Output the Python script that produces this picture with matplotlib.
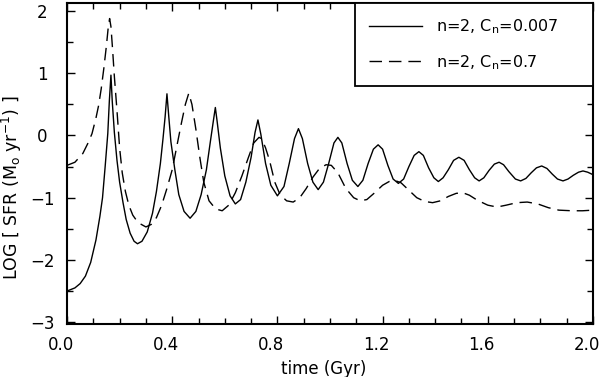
import matplotlib
matplotlib.use("Agg")
import matplotlib.pyplot as plt
import matplotlib.transforms as mtransforms
from matplotlib.ticker import MultipleLocator, FormatStrFormatter

# solid curve: n=2, Cn=0.007  (time in Gyr, log SFR)
t_solid = [0.0, 0.03, 0.05, 0.07, 0.09, 0.11, 0.125, 0.135, 0.145, 0.155,
           0.161, 0.167, 0.172, 0.180, 0.190, 0.200, 0.213, 0.225, 0.240, 0.255,
           0.268, 0.285, 0.305, 0.325, 0.340, 0.355, 0.365, 0.373, 0.380, 0.387,
           0.395, 0.410, 0.425, 0.445, 0.468, 0.490, 0.510, 0.530, 0.545, 0.557,
           0.564, 0.571, 0.583, 0.600, 0.620, 0.640, 0.660, 0.680, 0.700, 0.715,
           0.726, 0.737, 0.755, 0.775, 0.800, 0.825, 0.845, 0.865, 0.880, 0.895,
           0.915, 0.935, 0.955, 0.975, 0.995, 1.015, 1.030, 1.045, 1.065, 1.085,
           1.106, 1.125, 1.145, 1.165, 1.183, 1.200, 1.220, 1.240, 1.260, 1.280,
           1.300, 1.320, 1.338, 1.355, 1.375, 1.395, 1.412, 1.430, 1.450, 1.470,
           1.490, 1.510, 1.530, 1.550, 1.567, 1.585, 1.605, 1.625, 1.643, 1.660,
           1.680, 1.705, 1.725, 1.745, 1.765, 1.785, 1.805, 1.825, 1.845, 1.865,
           1.886, 1.905, 1.925, 1.945, 1.962, 1.980, 2.000]
sfr_solid = [-2.50, -2.45, -2.38, -2.26, -2.04, -1.68, -1.30, -1.00, -0.50, 0.03,
             0.56, 0.97, 0.55, 0.05, -0.40, -0.75, -1.08, -1.35, -1.57, -1.70,
             -1.74, -1.70, -1.55, -1.25, -0.90, -0.45, -0.05, 0.30, 0.67, 0.30,
             -0.10, -0.55, -0.95, -1.22, -1.33, -1.22, -0.95, -0.55, -0.10, 0.25,
             0.45, 0.22, -0.20, -0.65, -0.97, -1.10, -1.03, -0.75, -0.35, 0.05,
             0.25, 0.02, -0.45, -0.80, -0.97, -0.82, -0.45, -0.05, 0.11, -0.05,
             -0.45, -0.75, -0.87, -0.75, -0.45, -0.12, -0.03, -0.12, -0.45, -0.72,
             -0.82, -0.72, -0.45, -0.22, -0.15, -0.22, -0.48, -0.70, -0.77, -0.70,
             -0.50, -0.32, -0.26, -0.32, -0.52, -0.68, -0.74, -0.68, -0.55, -0.40,
             -0.35, -0.40, -0.55, -0.68, -0.73, -0.68, -0.56, -0.46, -0.43, -0.47,
             -0.58, -0.70, -0.73, -0.69, -0.60, -0.52, -0.49, -0.53, -0.62, -0.70,
             -0.73, -0.70, -0.64, -0.59, -0.57, -0.59, -0.63]

# dashed curve: n=2, Cn=0.7
t_dash = [0.0, 0.03, 0.06, 0.08, 0.095, 0.11, 0.12, 0.13, 0.14, 0.150,
          0.157, 0.162, 0.167, 0.173, 0.180, 0.190, 0.200, 0.210, 0.222, 0.235,
          0.250, 0.270, 0.300, 0.320, 0.340, 0.360, 0.380, 0.400, 0.420, 0.435,
          0.450, 0.463, 0.475, 0.490, 0.505, 0.520, 0.540, 0.565, 0.590, 0.615,
          0.640, 0.665, 0.690, 0.710, 0.730, 0.740, 0.755, 0.770, 0.790, 0.810,
          0.835, 0.860, 0.885, 0.910, 0.935, 0.960, 0.985, 1.005, 1.030, 1.060,
          1.090, 1.115, 1.140, 1.170, 1.200, 1.225, 1.245, 1.270, 1.300, 1.330,
          1.360, 1.390, 1.420, 1.450, 1.480, 1.505, 1.530, 1.560, 1.600, 1.635,
          1.670, 1.710, 1.750, 1.790, 1.830, 1.870, 1.920, 1.960, 2.000]
sfr_dash = [-0.48, -0.43, -0.29, -0.12, 0.03, 0.28, 0.48, 0.75, 1.08, 1.45,
            1.75, 1.88, 1.75, 1.40, 0.95, 0.40, -0.20, -0.60, -0.90, -1.12,
            -1.28, -1.40, -1.47, -1.43, -1.32, -1.12, -0.85, -0.55, -0.12, 0.20,
            0.50, 0.68, 0.50, 0.10, -0.35, -0.75, -1.05, -1.18, -1.21, -1.12,
            -0.92, -0.65, -0.35, -0.12, -0.03, -0.05, -0.20, -0.40, -0.75, -0.95,
            -1.05, -1.07, -1.00, -0.85, -0.67, -0.53, -0.47, -0.48, -0.60, -0.85,
            -1.00, -1.05, -1.03, -0.92, -0.80, -0.74, -0.72, -0.76, -0.88, -1.00,
            -1.06, -1.08, -1.05, -0.98, -0.93, -0.92, -0.96, -1.04, -1.12, -1.15,
            -1.12, -1.08, -1.07, -1.10, -1.16, -1.20, -1.21, -1.21, -1.20]

labels = [r"n=2, C$_\mathregular{n}$=0.007", r"n=2, C$_\mathregular{n}$=0.7"]

plt.rcParams["font.family"] = "DejaVu Sans"
plt.rcParams["font.size"] = 12

fig = plt.figure(figsize=(6, 3.77), dpi=100)
ax = fig.add_axes([0.1117, 0.1406, 0.8766, 0.8515])

ax.plot(t_solid, sfr_solid, color="black", lw=1.0, label=labels[0])
ax.plot(t_dash, sfr_dash, color="black", lw=1.0, linestyle=(0, (9, 5)), label=labels[1])

ax.set_xlim(0, 2.0)
ax.set_ylim(-3.03, 2.13)
ax.xaxis.set_major_locator(MultipleLocator(0.4))
ax.xaxis.set_minor_locator(MultipleLocator(0.1))
ax.xaxis.set_major_formatter(FormatStrFormatter("%.1f"))
ax.yaxis.set_major_locator(MultipleLocator(1))
ax.yaxis.set_minor_locator(MultipleLocator(0.5))
ax.tick_params(which="both", direction="in", top=True, right=True, width=1.0)
ax.tick_params(which="major", length=6)
ax.tick_params(which="minor", length=4)
ax.tick_params(axis="x", which="major", pad=9)
ax.tick_params(axis="y", which="major", pad=18)
for s in ax.spines.values():
    s.set_linewidth(1.5)

ax.set_xlabel("time (Gyr)", fontsize=12, va="top")
ax.xaxis.set_label_coords(0.4886, -0.113)
ax.set_ylabel(r"LOG [ SFR (M$_\mathregular{o}$ yr$^{\mathregular{-1}}$) ]",
              fontsize=12.5, va="center")
ax.yaxis.set_label_coords(-0.104, 0.424)

leg = ax.legend(loc="upper left", bbox_to_anchor=(0.5475, 0, 0.4525, 1.0),
                mode="expand", borderaxespad=0, fancybox=False, framealpha=1,
                edgecolor="black", handlelength=3.3, handletextpad=0.85,
                borderpad=0.9, labelspacing=1.05, fontsize=11.5)
leg.get_frame().set_linewidth(1.3)

fig.canvas.draw()
for lab in ax.get_yticklabels():
    lab.set_horizontalalignment("center")
shift = mtransforms.ScaledTranslation(-6 / 100, 0, fig.dpi_scale_trans)
for lab in ax.get_xticklabels():
    lab.set_transform(lab.get_transform() + shift)

fig.savefig("out.png", dpi=100)
